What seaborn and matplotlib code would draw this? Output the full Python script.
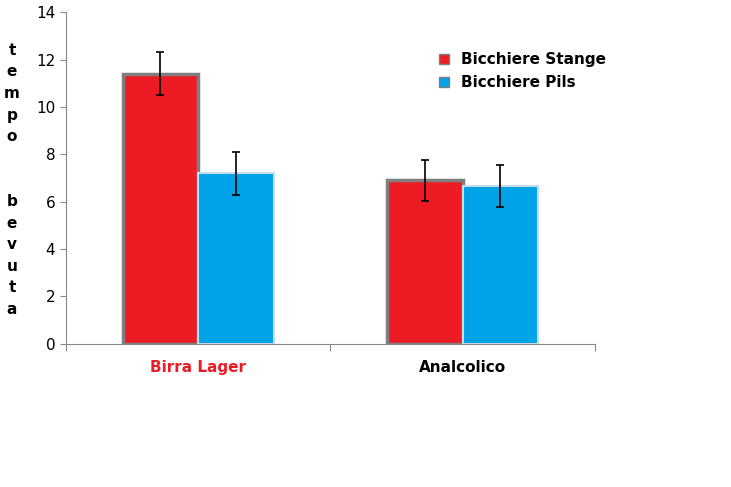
import matplotlib
matplotlib.use("Agg")
import matplotlib.pyplot as plt
import seaborn as sns
import pandas as pd

categories = ["Birra Lager", "Analcolico"]
series = ["Bicchiere Stange", "Bicchiere Pils"]
stange = [11.4, 6.9]
pils = [7.2, 6.65]
stange_err = [0.9, 0.85]
pils_err = [0.9, 0.88]
colors = ["#ED1C24", "#00A2E8"]

df = pd.DataFrame({
    "cat": categories * 2,
    "serie": [series[0]] * 2 + [series[1]] * 2,
    "val": stange + pils,
})

fig = plt.figure(figsize=(7.31, 4.87), dpi=100)
ax = fig.add_axes([0.09, 0.294, 0.724, 0.681])
sns.barplot(data=df, x="cat", y="val", hue="serie", palette=colors, ax=ax,
            width=0.57, errorbar=None, saturation=1)

errs = stange_err + pils_err
vals = stange + pils
bars = [p for p in ax.patches if p.get_height() > 0][:4]
for i, p in enumerate(bars):
    p.set_edgecolor("#7f7f7f" if i < 2 else "#c8dce8")
    p.set_linewidth(2.5 if i < 2 else 1.5)
    ax.errorbar(p.get_x() + p.get_width() / 2, vals[i], yerr=errs[i],
                color="black", capsize=3, lw=1.2, capthick=1.2)

ax.set_ylim(0, 14)
ax.set_xlim(-0.5, 1.5)
ax.set_yticks(range(0, 15, 2))
ax.set_xticks([-0.5, 0.5, 1.5], minor=False)
ax.set_xticklabels([])
for x, lab, c in zip([0, 1], categories, ["#ED1C24", "black"]):
    ax.text(x, -0.7, lab, ha="center", va="top", fontsize=11, fontweight="bold", color=c)
ax.tick_params(axis="x", length=5, color="#888888")
ax.tick_params(axis="y", length=4, color="#888888", labelsize=11)
ax.set_xlabel("")
ax.set_ylabel("")
for s in ["top", "right"]:
    ax.spines[s].set_visible(False)
for s in ["left", "bottom"]:
    ax.spines[s].set_color("#888888")

fig.text(12 / 731, 1 - 180 / 487, "t\ne\nm\np\no\n\n\nb\ne\nv\nu\nt\na",
         ha="center", va="center", fontsize=11, fontweight="bold", linespacing=1.55)

leg = ax.legend(loc="upper left", bbox_to_anchor=(0.68, 0.92), frameon=False,
                prop={"weight": "bold", "size": 11}, handlelength=0.6, handleheight=0.6)
for h in leg.legend_handles:
    h.set_edgecolor("#7f7f7f")
fig.savefig("out.png", dpi=100)
